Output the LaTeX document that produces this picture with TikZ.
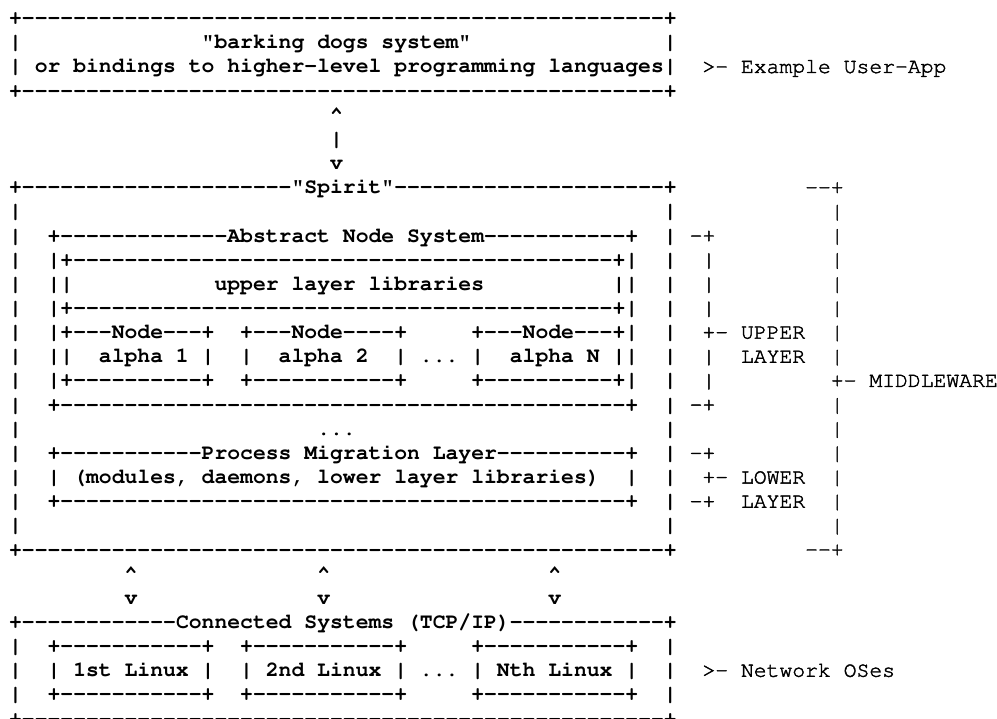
\documentclass[tikz,border=0pt]{standalone}
\usepackage[T1]{fontenc}
\renewcommand\ttdefault{pcr}
\ExplSyntaxOn
\NewDocumentCommand\dashes{m}{\prg_replicate:nn{#1}{-\kern0pt}}
\ExplSyntaxOff
\newlength\cw
\setlength\cw{12.84pt}
\newcommand\putc[2]{\rlap{\hspace*{#1\cw}#2}}
\newcommand\rg[1]{{\mdseries\special{pdf:literal direct 2 Tr 0.4 w}#1\special{pdf:literal direct 0 Tr}}}
\def\basey{24.7}
\def\rowh{24.15}
\tikzset{asciirow/.style={anchor=base west, inner sep=0pt, outer sep=0pt,
  font=\ttfamily\fontsize{21.4pt}{24pt}\selectfont\frenchspacing\bfseries}}
\newcommand\asciirow[2]{\node[asciirow] (r#1) at (8.6,{-(\basey+\rowh*#1)}) {#2};}
\begin{document}
\begin{tikzpicture}[x=1pt,y=1pt]
\useasboundingbox (0,0) rectangle (997,-719);
\fill[white] (0,0) rectangle (997,-719);
\asciirow{0}{\putc{0}{+\dashes{50}+}}
\asciirow{1}{\putc{0}{|}\putc{15}{"barking dogs system"}\putc{51}{|}}
\asciirow{2}{\putc{0}{|}\putc{2}{or bindings to higher\kern0pt-\kern0pt level programming languages|}\putc{54}{\rg{>\kern0pt-\kern0pt{} Example User\kern0pt-\kern0pt App}}}
\asciirow{3}{\putc{0}{+\dashes{50}+}}
\asciirow{4}{\putc{25}{\textasciicircum}}
\asciirow{5}{\putc{25}{|}}
\asciirow{6}{\putc{25}{v}}
\asciirow{7}{\putc{0}{+\dashes{21}"Spirit"\dashes{21}+}\putc{62}{\rg{\dashes{2}+}}}
\asciirow{8}{\putc{0}{|}\putc{51}{|}\putc{64}{\rg{|}}}
\asciirow{9}{\putc{0}{|}\putc{3}{+\dashes{13}Abstract Node System\dashes{11}+}\putc{51}{|}\putc{53}{\rg{\dashes{1}+}}\putc{64}{\rg{|}}}
\asciirow{10}{\putc{0}{|}\putc{3}{|+\dashes{42}+|}\putc{51}{|}\putc{54}{\rg{|}}\putc{64}{\rg{|}}}
\asciirow{11}{\putc{0}{|}\putc{3}{||}\putc{16}{upper layer libraries}\putc{47}{||}\putc{51}{|}\putc{54}{\rg{|}}\putc{64}{\rg{|}}}
\asciirow{12}{\putc{0}{|}\putc{3}{|+\dashes{42}+|}\putc{51}{|}\putc{54}{\rg{|}}\putc{64}{\rg{|}}}
\asciirow{13}{\putc{0}{|}\putc{3}{|+\dashes{3}Node\dashes{3}+}\putc{18}{+\dashes{3}Node\dashes{4}+}\putc{36}{+\dashes{3}Node\dashes{3}+|}\putc{51}{|}\putc{54}{\rg{+\dashes{1}}}\putc{57}{\rg{UPPER}}\putc{64}{\rg{|}}}
\asciirow{14}{\putc{0}{|}\putc{3}{||}\putc{7}{alpha 1}\putc{15}{|}\putc{18}{|}\putc{21}{alpha 2}\putc{30}{|}\putc{32}{.\kern0pt.\kern0pt.}\putc{36}{|}\putc{39}{alpha N}\putc{47}{||}\putc{51}{|}\putc{54}{\rg{|}}\putc{57}{\rg{LAYER}}\putc{64}{\rg{|}}}
\asciirow{15}{\putc{0}{|}\putc{3}{|+\dashes{10}+}\putc{18}{+\dashes{11}+}\putc{36}{+\dashes{10}+|}\putc{51}{|}\putc{54}{\rg{|}}\putc{64}{\rg{+\dashes{1}}}\putc{67}{\rg{MIDDLEWARE}}}
\asciirow{16}{\putc{0}{|}\putc{3}{+\dashes{44}+}\putc{51}{|}\putc{53}{\rg{\dashes{1}+}}\putc{64}{\rg{|}}}
\asciirow{17}{\putc{0}{|}\putc{24}{.\kern0pt.\kern0pt.}\putc{51}{|}\putc{64}{\rg{|}}}
\asciirow{18}{\putc{0}{|}\putc{3}{+\dashes{11}Process Migration Layer\dashes{10}+}\putc{51}{|}\putc{53}{\rg{\dashes{1}+}}\putc{64}{\rg{|}}}
\asciirow{19}{\putc{0}{|}\putc{3}{|}\putc{5}{(modules, daemons, lower layer libraries)}\putc{48}{|}\putc{51}{|}\putc{54}{\rg{+\dashes{1}}}\putc{57}{\rg{LOWER}}\putc{64}{\rg{|}}}
\asciirow{20}{\putc{0}{|}\putc{3}{+\dashes{44}+}\putc{51}{|}\putc{53}{\rg{\dashes{1}+}}\putc{57}{\rg{LAYER}}\putc{64}{\rg{|}}}
\asciirow{21}{\putc{0}{|}\putc{51}{|}\putc{64}{\rg{|}}}
\asciirow{22}{\putc{0}{+\dashes{50}+}\putc{62}{\rg{\dashes{2}+}}}
\asciirow{23}{\putc{9}{\textasciicircum}\putc{24}{\textasciicircum}\putc{42}{\textasciicircum}}
\asciirow{24}{\putc{9}{v}\putc{24}{v}\putc{42}{v}}
\asciirow{25}{\putc{0}{+\dashes{12}Connected Systems (TCP/IP)\dashes{12}+}}
\asciirow{26}{\putc{0}{|}\putc{3}{+\dashes{11}+}\putc{18}{+\dashes{11}+}\putc{36}{+\dashes{11}+}\putc{51}{|}}
\asciirow{27}{\putc{0}{|}\putc{3}{|}\putc{5}{1st Linux}\putc{15}{|}\putc{18}{|}\putc{20}{2nd Linux}\putc{30}{|}\putc{32}{.\kern0pt.\kern0pt.}\putc{36}{|}\putc{38}{Nth Linux}\putc{48}{|}\putc{51}{|}\putc{54}{\rg{>\kern0pt-}}\putc{57}{\rg{Network OSes}}}
\asciirow{28}{\putc{0}{|}\putc{3}{+\dashes{11}+}\putc{18}{+\dashes{11}+}\putc{36}{+\dashes{11}+}\putc{51}{|}}
\asciirow{29}{\putc{0}{+\dashes{50}+}}
\end{tikzpicture}
\end{document}
